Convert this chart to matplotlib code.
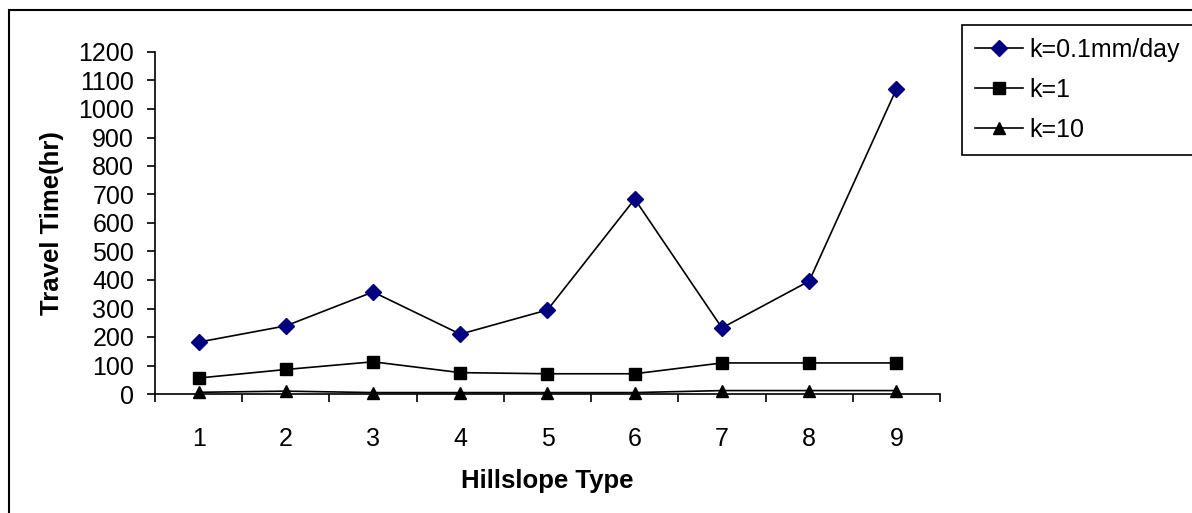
import matplotlib
matplotlib.use("Agg")
import matplotlib.pyplot as plt
from matplotlib.patches import Rectangle

# data
hillslope = [1, 2, 3, 4, 5, 6, 7, 8, 9]
k01 = [182, 239, 358, 210, 295, 684, 232, 396, 1070]
k1 = [56, 86, 113, 75, 71, 71, 109, 109, 109]
k10 = [6, 10, 5, 5, 5, 5, 12, 12, 12]
labels = ["k=0.1mm/day", "k=1", "k=10"]

plt.rcParams['font.family'] = ['Liberation Sans', 'DejaVu Sans']

W, H = 1192, 513
fig = plt.figure(figsize=(W / 100, H / 100), dpi=100)
ax = fig.add_axes([155 / W, 1 - 394 / H, (940 - 155) / W, (394 - 52) / H])

ax.plot(hillslope, k01, color='black', lw=1.2, marker='D', ms=8,
        mfc='#000080', mec='#000080', label=labels[0], clip_on=False)
ax.plot(hillslope, k1, color='black', lw=1.2, marker='s', ms=8,
        mfc='black', mec='black', label=labels[1], clip_on=False)
ax.plot(hillslope, k10, color='black', lw=1.2, marker='^', ms=9,
        mfc='black', mec='black', label=labels[2], clip_on=False)

ax.set_xlim(0.5, 9.5)
ax.set_ylim(0, 1200)
ax.set_yticks(range(0, 1201, 100))
ax.tick_params(axis='y', direction='out', length=6, width=1.2, pad=9, labelsize=18)

# category axis: tick marks between categories, labels on categories
ax.set_xticks([i + 0.5 for i in range(0, 10)])
ax.set_xticklabels([])
ax.set_xticks(hillslope, minor=True)
ax.set_xticklabels([str(h) for h in hillslope], minor=True)
ax.tick_params(axis='x', which='major', direction='out', length=6, width=1.2)
ax.tick_params(axis='x', which='minor', length=0, pad=24, labelsize=18)

for s in ['top', 'right']:
    ax.spines[s].set_visible(False)
for s in ['left', 'bottom']:
    ax.spines[s].set_linewidth(1.2)

ax.set_ylabel("Travel Time(hr)", fontsize=18.5, fontweight='bold', labelpad=10)
ax.set_xlabel("Hillslope Type", fontsize=18.5, fontweight='bold', labelpad=13)

leg = fig.legend(loc='upper left', bbox_to_anchor=(962 / W, 1 - 148 / H, 0.3, 123 / H),
                 mode='expand', borderaxespad=0, fancybox=False, edgecolor='black',
                 fontsize=18, handlelength=1.95, labelspacing=0.65, borderpad=0.5,
                 handletextpad=0.25, framealpha=1)
leg.get_frame().set_linewidth(1.2)

# outer chart border (cropped at right and bottom)
fig.patches.append(Rectangle((9 / W, -0.1), 1.2, 1.1 - 10 / H, transform=fig.transFigure,
                             fill=False, edgecolor='black', lw=1.5, clip_on=False))

fig.savefig("out.png", dpi=100)
